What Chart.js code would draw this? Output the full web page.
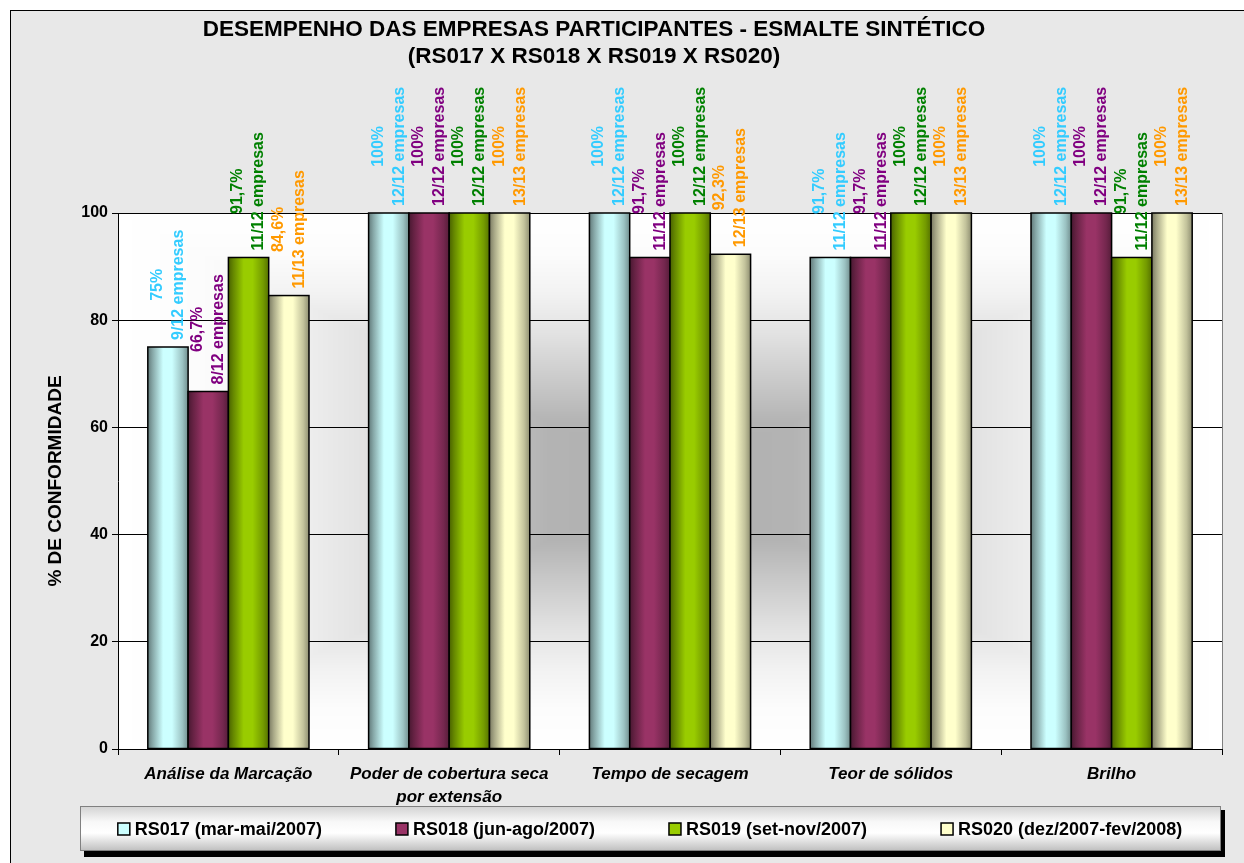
<!DOCTYPE html>
<html>
<head>
<meta charset="utf-8">
<title>Desempenho das empresas - Esmalte sintético</title>
<script src="https://cdn.jsdelivr.net/npm/chart.js"></script>
<style>
  body { margin: 0; background: #fff; }
  canvas { display: block; }
</style>
</head>
<body>
<canvas id="grafico" width="1244" height="863"></canvas>
<script>
// ---- dados do gráfico ----
var titulo = ['DESEMPENHO DAS EMPRESAS PARTICIPANTES - ESMALTE SINTÉTICO', '(RS017 X RS018 X RS019 X RS020)'];

var categorias = [
  'Análise da Marcação',
  ['Poder de cobertura seca', 'por extensão'],
  'Tempo de secagem',
  'Teor de sólidos',
  'Brilho'
];

var rodadas = ['RS017 (mar-mai/2007)', 'RS018 (jun-ago/2007)', 'RS019 (set-nov/2007)', 'RS020 (dez/2007-fev/2008)'];

// % de conformidade por rodada
var rs017 = [75, 100, 100, 91.7, 100];
var rs018 = [66.7, 100, 91.7, 91.7, 100];
var rs019 = [91.7, 100, 100, 100, 91.7];
var rs020 = [84.6, 100, 92.3, 100, 100];

// empresas conformes / participantes
var rs017Empresas = ['9/12', '12/12', '12/12', '11/12', '12/12'];
var rs018Empresas = ['8/12', '12/12', '11/12', '11/12', '12/12'];
var rs019Empresas = ['11/12', '12/12', '12/12', '12/12', '11/12'];
var rs020Empresas = ['11/13', '13/13', '12/13', '13/13', '13/13'];

var marcasEixoY = [0, 20, 40, 60, 80, 100];
var tituloEixoY = '% DE CONFORMIDADE';

var coresBarra = ['#CCFFFF', '#993366', '#99CC00', '#FFFFCC'];
var coresRotulo = ['#33CCFF', '#800080', '#008000', '#FF9900'];

var fonte = '"Liberation Sans", Arial, sans-serif';

function escurecer(hex, f) {
  var n = parseInt(hex.slice(1), 16);
  var r = (n >> 16) & 255, g = (n >> 8) & 255, b = n & 255;
  return 'rgb(' + Math.round(r * f) + ',' + Math.round(g * f) + ',' + Math.round(b * f) + ')';
}

// fundo cinza + moldura + degradê "do centro" na área de plotagem
var pluginFundo = {
  id: 'fundo',
  beforeDraw: function (chart) {
    var ctx = chart.ctx;
    var a = chart.chartArea;
    ctx.save();
    ctx.fillStyle = '#ffffff';
    ctx.fillRect(0, 0, chart.width, chart.height);
    ctx.fillStyle = '#e8e8e8';
    ctx.fillRect(10, 10, chart.width, chart.height);
    ctx.strokeStyle = '#000';
    ctx.lineWidth = 1;
    ctx.strokeRect(10.5, 10.5, chart.width + 20, chart.height + 20);

    var x0 = Math.round(a.left), y0 = Math.round(a.top);
    var w = Math.round(a.right) - x0, h = Math.round(a.bottom) - y0;
    var img = ctx.createImageData(w, h);
    var paradas = [[0, 176], [0.22, 179], [0.35, 198], [0.55, 226], [0.7, 242], [0.85, 252], [1, 255]];
    for (var j = 0; j < h; j++) {
      for (var i = 0; i < w; i++) {
        var t = Math.max(Math.abs(i - w / 2) / (w / 2), Math.abs(j - h / 2) / (h / 2));
        var v = 255;
        for (var k = 1; k < paradas.length; k++) {
          if (t <= paradas[k][0]) {
            var p0 = paradas[k - 1], p1 = paradas[k];
            v = p0[1] + (p1[1] - p0[1]) * (t - p0[0]) / (p1[0] - p0[0]);
            break;
          }
        }
        var idx = (j * w + i) * 4;
        img.data[idx] = v; img.data[idx + 1] = v; img.data[idx + 2] = v; img.data[idx + 3] = 255;
      }
    }
    ctx.putImageData(img, x0, y0);
    ctx.strokeStyle = '#808080';
    ctx.beginPath();
    ctx.moveTo(Math.round(a.right) + 0.5, a.top);
    ctx.lineTo(Math.round(a.right) + 0.5, a.bottom);
    ctx.stroke();

    // título
    ctx.fillStyle = '#000';
    ctx.font = 'bold 22.5px ' + fonte;
    ctx.textAlign = 'center';
    ctx.textBaseline = 'middle';
    ctx.fillText(titulo[0], 594, 30);
    ctx.fillText(titulo[1], 594, 57);
    ctx.restore();
  }
};

// barras com sombreamento cilíndrico + rótulos verticais
var pluginBarras = {
  id: 'barras',
  afterDatasetsDraw: function (chart) {
    var ctx = chart.ctx;
    ctx.save();
    chart.data.datasets.forEach(function (ds, i) {
      var meta = chart.getDatasetMeta(i);
      meta.data.forEach(function (barra, n) {
        var p = barra.getProps(['x', 'y', 'base', 'width'], true);
        var esq = p.x - p.width / 2;
        var g = ctx.createLinearGradient(esq, 0, esq + p.width, 0);
        g.addColorStop(0, escurecer(ds.backgroundColor, 0.48));
        g.addColorStop(0.12, escurecer(ds.backgroundColor, 0.66));
        g.addColorStop(0.38, ds.backgroundColor);
        g.addColorStop(0.6, ds.backgroundColor);
        g.addColorStop(0.86, escurecer(ds.backgroundColor, 0.76));
        g.addColorStop(1, escurecer(ds.backgroundColor, 0.56));
        ctx.fillStyle = g;
        ctx.fillRect(esq, p.y, p.width, p.base - p.y);
        ctx.strokeStyle = '#000';
        ctx.lineWidth = 1.5;
        ctx.strokeRect(esq, p.y, p.width, p.base - p.y);

        // rótulo: "75%" / "9/12 empresas"
        var linhas = [String(ds.data[n]).replace('.', ',') + '%', ds.empresas[n] + ' empresas'];
        ctx.font = 'bold 16px ' + fonte;
        var comp = Math.max(ctx.measureText(linhas[0]).width, ctx.measureText(linhas[1]).width);
        ctx.save();
        ctx.translate(p.x, p.y - 7);
        ctx.rotate(-Math.PI / 2);
        ctx.fillStyle = ds.corRotulo;
        ctx.textAlign = 'center';
        ctx.textBaseline = 'middle';
        ctx.fillText(linhas[0], comp / 2, -10.5);
        ctx.fillText(linhas[1], comp / 2, 10.5);
        ctx.restore();
      });
    });
    ctx.restore();
  }
};

// legenda em caixa com sombra
var pluginLegenda = {
  id: 'legendaCaixa',
  afterDraw: function (chart) {
    var ctx = chart.ctx;
    var a = chart.chartArea;
    var cx = a.left - 38, cy = 806, cw = a.right - 1 - cx, ch = 45;
    ctx.save();
    ctx.fillStyle = '#000';
    ctx.fillRect(cx + 4, cy + 4, cw, ch + 2);
    var g = ctx.createLinearGradient(0, cy, 0, cy + ch);
    g.addColorStop(0, '#d2d2d2');
    g.addColorStop(0.35, '#f8f8f8');
    g.addColorStop(0.6, '#ffffff');
    g.addColorStop(1, '#bebebe');
    ctx.fillStyle = g;
    ctx.fillRect(cx, cy, cw, ch);
    ctx.strokeStyle = '#808080';
    ctx.lineWidth = 1;
    ctx.strokeRect(cx + 0.5, cy + 0.5, cw - 1, ch - 1);

    ctx.font = 'bold 18px ' + fonte;
    ctx.textBaseline = 'middle';
    ctx.textAlign = 'left';
    var caixa = 12, folga = 5, espaco = 74;
    var larguras = chart.data.datasets.map(function (ds) { return caixa + folga + ctx.measureText(ds.label).width; });
    var total = larguras.reduce(function (s, v) { return s + v; }, 0) + espaco * (larguras.length - 1);
    var x = 650 - total / 2;
    var ym = cy + 23;
    chart.data.datasets.forEach(function (ds, i) {
      ctx.fillStyle = ds.backgroundColor;
      ctx.fillRect(x, ym - 6, caixa, caixa);
      ctx.strokeStyle = '#000';
      ctx.lineWidth = 1.5;
      ctx.strokeRect(x, ym - 6, caixa, caixa);
      ctx.fillStyle = '#000';
      ctx.fillText(ds.label, x + caixa + folga, ym + 1);
      x += larguras[i] + espaco;
    });
    ctx.restore();
  }
};

var valores = [rs017, rs018, rs019, rs020];
var empresas = [rs017Empresas, rs018Empresas, rs019Empresas, rs020Empresas];
var conjuntos = [];
for (var i = 0; i < rodadas.length; i++) {
  conjuntos.push({
    label: rodadas[i],
    data: valores[i],
    empresas: empresas[i],
    corRotulo: coresRotulo[i],
    backgroundColor: coresBarra[i],
    borderColor: '#000',
    borderWidth: 1.5,
    categoryPercentage: 0.73,
    barPercentage: 1
  });
}

var grafico = new Chart(document.getElementById('grafico'), {
  type: 'bar',
  data: { labels: categorias, datasets: conjuntos },
  options: {
    responsive: false,
    animation: false,
    devicePixelRatio: 1,
    layout: { padding: { top: 213, bottom: 54, left: 10, right: 22 } },
    plugins: {
      legend: { display: false },
      title: { display: false },
      tooltip: { enabled: false }
    },
    scales: {
      x: {
        grid: { display: true, drawOnChartArea: false, drawTicks: true, tickLength: 6, color: '#000', offset: true },
        border: { display: true, color: '#000', width: 1 },
        ticks: {
          color: '#000',
          font: { family: fonte, size: 17, weight: 'bold', style: 'italic', lineHeight: 23 / 17 },
          padding: 8,
          maxRotation: 0,
          minRotation: 0,
          autoSkip: false
        },
        afterFit: function (s) { s.height = 60; }
      },
      y: {
        min: marcasEixoY[0],
        max: marcasEixoY[marcasEixoY.length - 1],
        ticks: {
          stepSize: marcasEixoY[1] - marcasEixoY[0],
          color: '#000',
          font: { family: fonte, size: 16, weight: 'bold' },
          padding: 4
        },
        grid: { color: '#000', lineWidth: 1, tickLength: 6 },
        border: { display: true, color: '#000', width: 1 },
        title: {
          display: true,
          text: tituloEixoY,
          color: '#000',
          font: { family: fonte, size: 19, weight: 'bold' },
          padding: { top: 34, bottom: 0 }
        },
        afterFit: function (s) { s.width = 108; }
      }
    }
  },
  plugins: [pluginFundo, pluginBarras, pluginLegenda]
});
</script>
</body>
</html>
